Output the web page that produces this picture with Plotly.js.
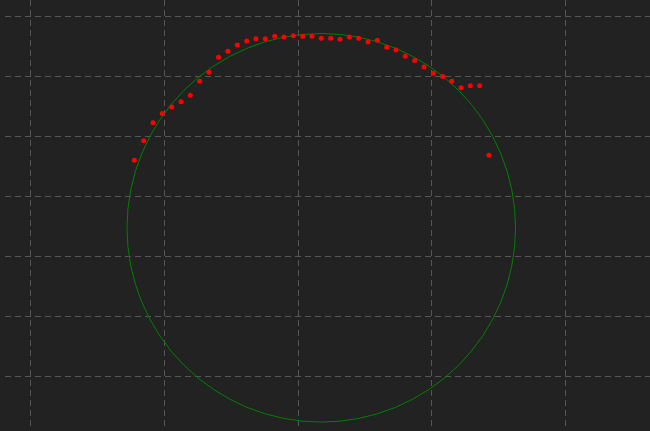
<!DOCTYPE html>
<html>
<head>
<meta charset="utf-8">
<script src="https://cdn.plot.ly/plotly-3.0.1.min.js"></script>
<style>html,body{margin:0;padding:0;background:#222222;}#chart{width:650px;height:431px;}</style>
</head>
<body>
<div id="chart"></div>
<script>
// Measured points (equal-aspect data units)
var pointsX = [-2.728, -2.572, -2.417, -2.262, -2.105, -1.950, -1.795, -1.638, -1.483, -1.325,
               -1.167, -1.012, -0.855, -0.700, -0.545, -0.388, -0.233, -0.078, 0.078, 0.233,
               0.388, 0.545, 0.700, 0.855, 1.012, 1.167, 1.322, 1.478, 1.633, 1.788,
               1.945, 2.100, 2.255, 2.412, 2.562, 2.717, 2.872, 3.028, 3.183];
var pointsY = [0.595, 0.922, 1.222, 1.375, 1.483, 1.572, 1.678, 1.912, 2.062, 2.312,
               2.412, 2.517, 2.583, 2.622, 2.622, 2.662, 2.650, 2.672, 2.662, 2.662,
               2.628, 2.628, 2.612, 2.650, 2.628, 2.567, 2.595, 2.478, 2.433, 2.328,
               2.258, 2.150, 2.045, 1.992, 1.912, 1.805, 1.838, 1.838, 0.678];

// Fitted circle
var circleCenterX = 0.388;
var circleCenterY = -0.530;
var circleRadius = 3.238;

var gridDx = 2.2292;
var gridDy = 1;

var traces = [{
  type: 'scatter', mode: 'markers',
  x: pointsX, y: pointsY,
  marker: {color: '#ff0000', size: 5, line: {width: 0}},
  hoverinfo: 'skip', showlegend: false
}];

var gridStyle = {
  showgrid: true, gridcolor: '#555555', gridwidth: 1, griddash: '6px,4px',
  zeroline: false, showline: false, showticklabels: false, ticks: '', fixedrange: true
};

var layout = {
  width: 650, height: 431,
  margin: {l: 5, r: 0, t: 0, b: 5, pad: 0},
  paper_bgcolor: '#222222', plot_bgcolor: '#222222',
  xaxis: Object.assign({range: [-4.8833, 5.8667], tick0: 0, dtick: gridDx}, gridStyle),
  yaxis: Object.assign({range: [-3.8333, 3.2667], tick0: 0, dtick: gridDy}, gridStyle),
  shapes: [{
    type: 'circle', xref: 'x', yref: 'y', layer: 'between',
    x0: circleCenterX - circleRadius, x1: circleCenterX + circleRadius,
    y0: circleCenterY - circleRadius, y1: circleCenterY + circleRadius,
    line: {color: '#008000', width: 1}
  }],
  showlegend: false
};

Plotly.newPlot('chart', traces, layout, {displayModeBar: false, staticPlot: true});
</script>
</body>
</html>
